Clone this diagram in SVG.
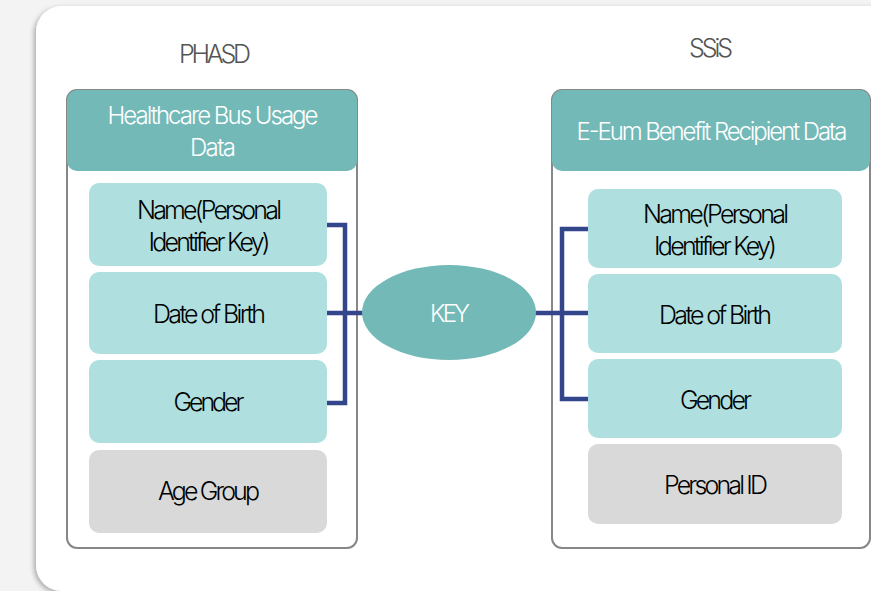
<svg xmlns="http://www.w3.org/2000/svg" width="871" height="591" viewBox="0 0 871 591">
<style>
  .panel { fill: #ffffff; stroke: #878787; stroke-width: 2; }
  .hdr { fill: #72b9b7; }
  .field { fill: #afe0df; }
  .other { fill: #d9d9d9; }
  .t { font-family: Inter, "Liberation Sans", sans-serif; text-anchor: middle; font-weight: 300; }
  .item { font-size: 25px; fill: #000000; }
  .htxt { font-size: 24px; fill: #ffffff; }
  .title { font-size: 25px; fill: #555555; }
  .conn { fill: none; stroke: #34468b; stroke-width: 4.5; stroke-linejoin: miter; }
</style>
<defs>
  <filter id="shadow" x="-10%" y="-10%" width="120%" height="120%">
    <feDropShadow dx="-2" dy="2" stdDeviation="2.5" flood-color="#000000" flood-opacity="0.3"/>
  </filter>
</defs>
<rect x="0" y="0" width="871" height="591" fill="#f3f3f3"/>
<rect x="36" y="6" width="900" height="585" rx="26" fill="#ffffff" filter="url(#shadow)"/>

<g id="phasd-title">
  <text class="t title" x="215" y="63" textLength="72">PHASD</text>
</g>
<g id="ssis-title">
  <text class="t title" x="711" y="57" textLength="44">SSiS</text>
</g>

<g id="left-panel">
  <rect class="panel" x="67" y="90" width="290" height="458" rx="10"/>
  <rect class="hdr" x="67" y="90" width="290" height="81" rx="10"/>
  <text class="t htxt" x="213" y="124" textLength="211">Healthcare Bus  Usage</text>
  <text class="t htxt" x="213" y="156" textLength="46">Data</text>
</g>
<g id="left-name">
  <rect class="field" x="89" y="183" width="238" height="83" rx="10"/>
  <text class="t item" x="209.5" y="219" textLength="145">Name(Personal</text>
  <text class="t item" x="209.5" y="251" textLength="122">Identifier Key)</text>
</g>
<g id="left-dob">
  <rect class="field" x="89" y="272" width="238" height="82" rx="10"/>
  <text class="t item" x="209.5" y="323" textLength="113">Date of Birth</text>
</g>
<g id="left-gender">
  <rect class="field" x="89" y="360" width="238" height="83" rx="10"/>
  <text class="t item" x="209" y="411" textLength="71">Gender</text>
</g>
<g id="left-age">
  <rect class="other" x="89" y="450" width="238" height="83" rx="10"/>
  <text class="t item" x="209" y="500" textLength="102">Age Group</text>
</g>

<g id="right-panel">
  <rect class="panel" x="552" y="90" width="318" height="458" rx="10"/>
  <rect class="hdr" x="552" y="90" width="318" height="81" rx="10"/>
  <text class="t htxt" x="712" y="140" textLength="271">E-Eum Benefit Recipient Data</text>
</g>
<g id="right-name">
  <rect class="field" x="588" y="189" width="254" height="79" rx="10"/>
  <text class="t item" x="716" y="223" textLength="146">Name(Personal</text>
  <text class="t item" x="715.5" y="255" textLength="123">Identifier Key)</text>
</g>
<g id="right-dob">
  <rect class="field" x="588" y="274" width="254" height="79" rx="10"/>
  <text class="t item" x="715.5" y="324" textLength="113">Date of Birth</text>
</g>
<g id="right-gender">
  <rect class="field" x="588" y="359" width="254" height="79" rx="10"/>
  <text class="t item" x="716" y="409" textLength="72">Gender</text>
</g>
<g id="right-pid">
  <rect class="other" x="588" y="444" width="254" height="80" rx="10"/>
  <text class="t item" x="716" y="494" textLength="104">Personal ID</text>
</g>

<g id="connectors">
  <path class="conn" d="M327,225 H345 V403 H327"/>
  <path class="conn" d="M327,313 H364"/>
  <path class="conn" d="M534,313 H588"/>
  <path class="conn" d="M588,229 H562 V399 H588"/>
</g>

<g id="key">
  <ellipse cx="449" cy="312.5" rx="87" ry="47.5" fill="#72b9b7"/>
  <text class="t htxt" x="450" y="322" textLength="40">KEY</text>
</g>
</svg>
